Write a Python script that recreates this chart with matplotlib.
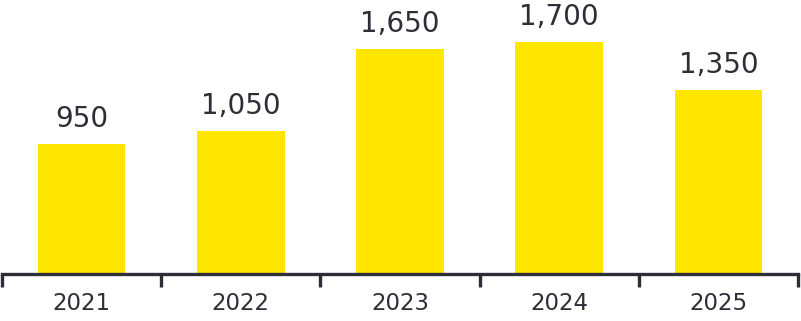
import matplotlib.pyplot as plt
import numpy as np

plt.rcParams['font.family'] = ['DejaVu Sans']

# Data
years = ['2021', '2022', '2023', '2024', '2025']
values = [950, 1050, 1650, 1700, 1350]

bar_color = '#FFE600'
text_color = '#2E2E38'

fig = plt.figure(figsize=(8.01, 3.21), dpi=100)
ax = fig.add_axes([2 / 801, (321 - 274) / 321, 796 / 801, 274 / 321])

x = np.arange(len(years))
bars = ax.bar(x, values, width=0.55, color=bar_color)

# Value labels above each bar
for xi, v in zip(x, values):
    ax.annotate(f'{v:,}', (xi, v), xytext=(0, 8), textcoords='offset points',
                ha='center', va='bottom', fontsize=20, color=text_color)

ax.set_xlim(-0.5, len(years) - 0.5)
ax.set_ylim(0, 2007)

# Only the bottom axis line
for s in ['top', 'right', 'left']:
    ax.spines[s].set_visible(False)
ax.spines['bottom'].set_color(text_color)
ax.spines['bottom'].set_linewidth(2.4)

ax.set_yticks([])
ax.set_xticks(x)
ax.set_xticklabels(years)
ax.set_xticks(np.arange(len(years) + 1) - 0.5, minor=True)
ax.tick_params(axis='x', which='major', length=0, pad=13, labelsize=16.5, labelcolor=text_color)
ax.tick_params(axis='x', which='minor', length=9, width=2.4, color=text_color)

fig.savefig('out.png', dpi=100)
